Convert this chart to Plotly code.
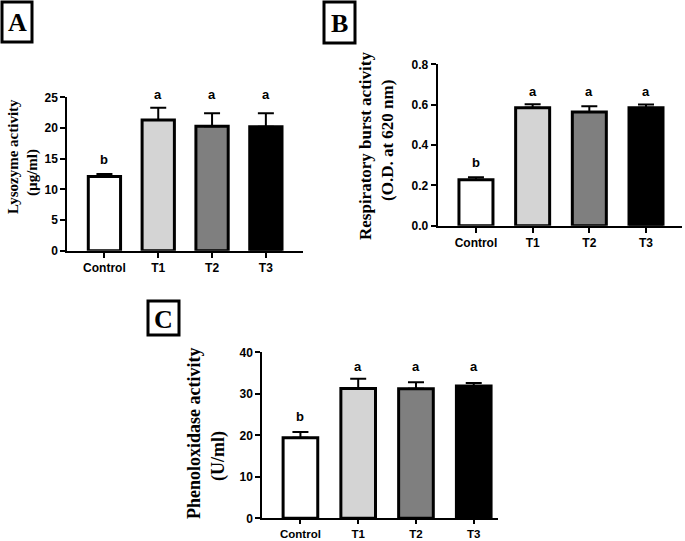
import plotly.graph_objects as go

# ---------------- data ----------------
groups = ["Control", "T1", "T2", "T3"]
sig_letters = ["b", "a", "a", "a"]

lysozyme_mean = [12.1, 21.3, 20.3, 20.2]
lysozyme_err = [0.4, 2.0, 2.1, 2.2]

burst_mean = [0.228, 0.585, 0.564, 0.585]
burst_err = [0.012, 0.017, 0.028, 0.016]

pheno_mean = [19.4, 31.3, 31.2, 31.9]
pheno_err = [1.4, 2.3, 1.6, 0.7]

lyso_ticks = [0, 5, 10, 15, 20, 25]
burst_ticks = [0.0, 0.2, 0.4, 0.6, 0.8]
pheno_ticks = [0, 10, 20, 30, 40]

# ---------------- style ----------------
W, H = 685, 541
bar_colors = ["#ffffff", "#d4d4d4", "#7f7f7f", "#000000"]
SANS = "Liberation Sans, Arial, sans-serif"
SERIF = "Liberation Serif, Times New Roman, serif"


def px(x):
    return x / W


def py(y):
    return 1 - y / H


fig = go.Figure()

panels = [
    dict(mean=lysozyme_mean, err=lysozyme_err, xa="x", ya="y",
         xd=(67.3, 303), yd=(97.3, 250.7), xr=[-0.69, 3.69], yr=[0, 25],
         ticks=lyso_ticks, fmt="d", lev={"a": 25.4, "b": 14.8},
         xtick_len=5, xtick_size=12),
    dict(mean=burst_mean, err=burst_err, xa="x2", ya="y2",
         xd=(437.7, 682), yd=(64.3, 225.7), xr=[-0.675, 3.635], yr=[0, 0.8],
         ticks=burst_ticks, fmt=".1f", lev={"a": 0.664, "b": 0.311},
         xtick_len=5, xtick_size=12),
    dict(mean=pheno_mean, err=pheno_err, xa="x3", ya="y3",
         xd=(262.3, 498), yd=(352.3, 518.3), xr=[-0.66, 3.42], yr=[0, 40],
         ticks=pheno_ticks, fmt="d", lev={"a": 36.5, "b": 24.5},
         xtick_len=4, xtick_size=11.5),
]

layout_axes = {}
annotations = []
for i, p in enumerate(panels):
    fig.add_trace(go.Bar(
        x=groups, y=p["mean"], xaxis=p["xa"], yaxis=p["ya"],
        width=0.6,
        marker=dict(color=bar_colors, line=dict(color="black", width=3)),
        error_y=dict(type="data", symmetric=False, array=p["err"],
                     arrayminus=[0] * len(groups), color="black",
                     thickness=2, width=8),
        showlegend=False, hoverinfo="skip",
    ))
    suffix = "" if i == 0 else str(i + 1)
    layout_axes["xaxis" + suffix] = dict(
        domain=[px(p["xd"][0]), px(p["xd"][1])], range=p["xr"],
        anchor=p["ya"], showline=True, linecolor="black", linewidth=2,
        ticks="outside", ticklen=p["xtick_len"], tickwidth=2, tickcolor="black",
        showgrid=False, zeroline=False, fixedrange=True, automargin=False,
        tickfont=dict(family=SANS, size=p["xtick_size"], color="black", weight="bold"),
    )
    layout_axes["yaxis" + suffix] = dict(
        domain=[py(p["yd"][1]), py(p["yd"][0])], range=p["yr"],
        anchor=p["xa"], showline=True, linecolor="black", linewidth=2,
        ticks="outside", ticklen=5, tickwidth=2, tickcolor="black",
        tickvals=p["ticks"], tickformat=p["fmt"],
        showgrid=False, zeroline=False, fixedrange=True, automargin=False,
        tickfont=dict(family=SANS, size=12, color="black", weight="bold"),
    )
    y0, y1 = p["yr"]
    for g, letter in zip(groups, sig_letters):
        frac = (p["lev"][letter] - y0) / (y1 - y0)
        annotations.append(dict(
            x=g, y=frac, xref=p["xa"], yref=p["ya"] + " domain",
            text=letter, showarrow=False, xanchor="center", yanchor="middle",
            font=dict(family=SANS, size=13, color="black", weight="bold"),
        ))

titles = [
    ("Lysozyme activity", 13, 157, 15),
    ("(µg/ml)", 32, 172, 15),
    ("Respiratory burst activity", 365, 146, 17),
    ("(O.D. at 620 nm)", 388, 141, 17),
    ("Phenoloxidase activity", 194, 433, 18),
    ("(U/ml)", 218, 456, 18),
]
for t, x, y, s in titles:
    annotations.append(dict(
        x=px(x), y=py(y), xref="paper", yref="paper", text=t,
        textangle=-90, showarrow=False, xanchor="center", yanchor="middle",
        font=dict(family=SERIF, size=s, color="black", weight="bold"),
    ))

boxes = [("A", 2, 2, 32, 42), ("B", 324, 2, 355, 43), ("C", 148, 301, 179, 335)]
shapes = []
for lab, x0, y0, x1, y1 in boxes:
    shapes.append(dict(type="rect", xref="paper", yref="paper",
                       x0=px(x0), x1=px(x1), y0=py(y1), y1=py(y0),
                       line=dict(color="black", width=3), fillcolor="white"))
    annotations.append(dict(
        x=px((x0 + x1) / 2), y=py((y0 + y1) / 2 + 1), xref="paper", yref="paper",
        text=lab, showarrow=False, xanchor="center", yanchor="middle",
        font=dict(family=SERIF, size=26, color="black", weight="bold"),
    ))

fig.update_layout(
    width=W, height=H, margin=dict(l=0, r=0, t=0, b=0, autoexpand=False),
    paper_bgcolor="white", plot_bgcolor="white",
    annotations=annotations, shapes=shapes, bargap=0.4,
    **layout_axes,
)

fig.write_html(
    "out.html",
    config={"displayModeBar": False},
    post_script="document.body.style.margin='0';document.body.style.overflow='hidden';",
)
